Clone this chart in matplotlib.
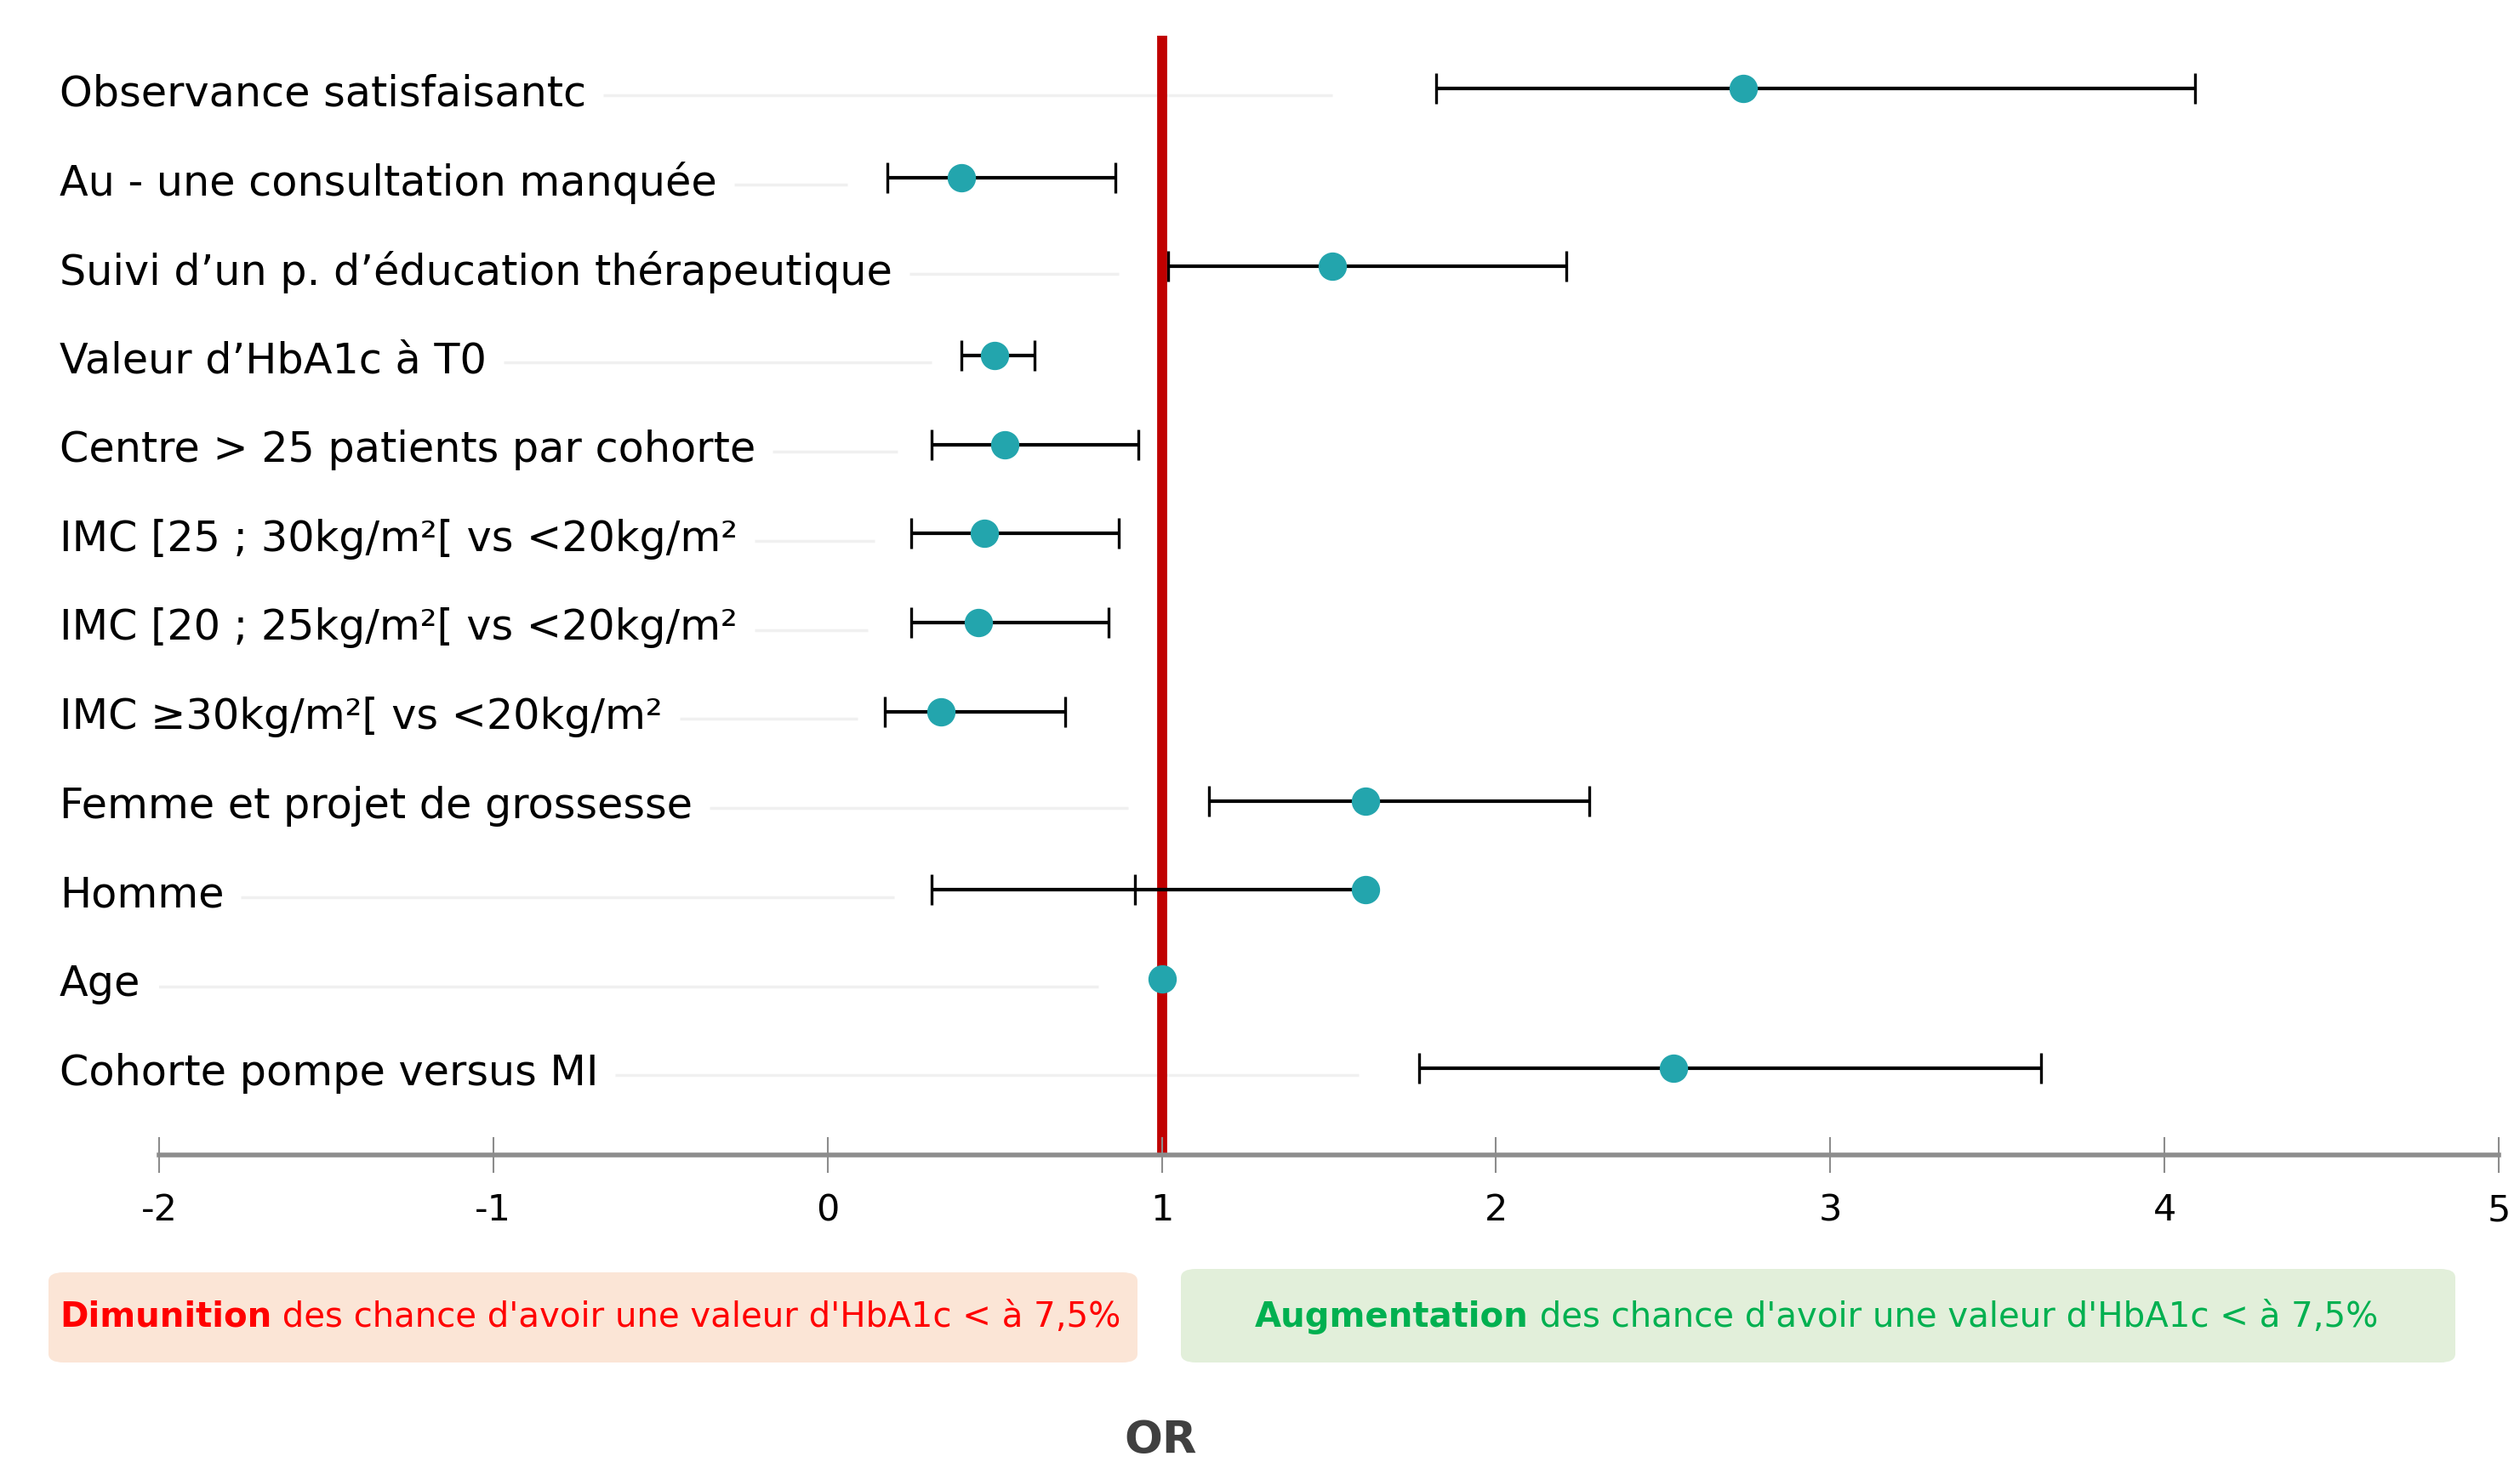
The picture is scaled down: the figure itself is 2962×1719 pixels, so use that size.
import numpy as np
import matplotlib
matplotlib.use("Agg")
import matplotlib.pyplot as plt
from matplotlib.patches import FancyBboxPatch
from matplotlib.text import Annotation
from matplotlib.transforms import blended_transform_factory

# Data: odds ratios with confidence interval (top row first).
labels = [
    "Observance satisfaisantc",
    "Au - une consultation manquée",
    "Suivi d’un p. d’éducation thérapeutique",
    "Valeur d’HbA1c à T0",
    "Centre > 25 patients par cohorte",
    "IMC [25 ; 30kg/m²[ vs <20kg/m²",
    "IMC [20 ; 25kg/m²[ vs <20kg/m²",
    "IMC ≥30kg/m²[ vs <20kg/m²",
    "Femme et projet de grossesse",
    "Homme",
    "Age",
    "Cohorte pompe versus MI",
]
or_values = [2.74, 0.40, 1.51, 0.50, 0.53, 0.47, 0.45, 0.34, 1.61, 1.61, 1.00, 2.53]
ci_low = [1.82, 0.18, 1.02, 0.40, 0.31, 0.25, 0.25, 0.17, 1.14, 0.31, np.nan, 1.77]
ci_high = [4.09, 0.86, 2.21, 0.62, 0.93, 0.87, 0.84, 0.71, 2.28, 0.92, np.nan, 3.63]
# end of the faint guide line drawn after each label (x in OR units)
guide_end = [1.51, 0.06, 0.87, 0.31, 0.21, 0.14, 0.12, 0.09, 0.90, 0.20, 0.81, 1.59]
xticks = [-2, -1, 0, 1, 2, 3, 4, 5]
box_text = " des chance d'avoir une valeur d'HbA1c < à 7,5%"

W, H = 2962, 1719
fig = plt.figure(figsize=(W / 100, H / 100), dpi=100)
ax = fig.add_axes([187 / W, 1 - 1358 / H, (2937 - 187) / W, (1358 - 42) / H])

n = len(labels)
y = np.arange(n)[::-1]
teal = "#23a5ad"

ax.axvline(1, color="#c00000", lw=8.5, zorder=1)

for yi, pt, lo, hi in zip(y, or_values, ci_low, ci_high):
    if np.isnan(lo):
        continue
    ax.hlines(yi, min(lo, pt), max(hi, pt), color="black", lw=3, zorder=2)
    ax.plot([lo, hi], [yi, yi], ls="none", marker="|", ms=26, mew=2.4,
            color="black", zorder=2)
ax.plot(or_values, y, ls="none", marker="o", ms=23, color=teal, zorder=3)

ax.set_xlim(-2, 5)
ax.set_ylim(-0.975, n - 1 + 0.59)
ax.set_xticks(xticks)
ax.set_xticklabels([str(t) for t in xticks], fontsize=31)
ax.set_yticks([])
for s in ["top", "right", "left"]:
    ax.spines[s].set_visible(False)
ax.spines["bottom"].set_color("#8c8c8c")
ax.spines["bottom"].set_linewidth(4)
ax.tick_params(axis="x", direction="inout", length=30, width=1.5,
               color="#8c8c8c", pad=17)

# Row labels on the left, with faint guide lines.
trans = blended_transform_factory(fig.transFigure, ax.transData)
texts = []
for yi, lab in zip(y, labels):
    texts.append(ax.text(70 / W, yi - 0.06, lab, transform=trans, fontsize=35.5,
                         va="center", ha="left", color="black"))
renderer = fig.canvas.get_renderer()
for t, yi, xe in zip(texts, y, guide_end):
    bb = t.get_window_extent(renderer)
    x0 = ax.transData.inverted().transform((bb.x1 + 20, 0))[0]
    ax.plot([x0, xe], [yi - 0.08, yi - 0.08], color="#f0f0f0", lw=2.5,
            zorder=0, solid_capstyle="butt")

# Interpretation boxes under the axis.
fig.patches.append(FancyBboxPatch((57 / W, 1 - 1602 / H), (1337 - 57) / W, 106 / H,
                                  boxstyle="round,pad=0,rounding_size=0.006",
                                  transform=fig.transFigure, fc="#fbe5d6", ec="none"))
fig.patches.append(FancyBboxPatch((1388 / W, 1 - 1602 / H), (2886 - 1388) / W, 110 / H,
                                  boxstyle="round,pad=0,rounding_size=0.006",
                                  transform=fig.transFigure, fc="#e2efda", ec="none"))

ty = 1 - 1549 / H
for x0, word, col in [(70, "Dimunition", "#ff0000"), (1475, "Augmentation", "#00b050")]:
    t = fig.text(x0 / W, ty, word, fontsize=29, weight="bold", color=col,
                 va="center", ha="left", zorder=3)
    rest = Annotation(box_text, xy=(1, 0), xycoords=t, va="bottom", ha="left",
                      fontsize=29, color=col, annotation_clip=False, zorder=3)
    fig.add_artist(rest)

fig.text(1364 / W, 1 - 1694 / H, "OR", fontsize=38, weight="bold",
         color="#404040", ha="center", va="center")

fig.savefig("out.png", dpi=100)
